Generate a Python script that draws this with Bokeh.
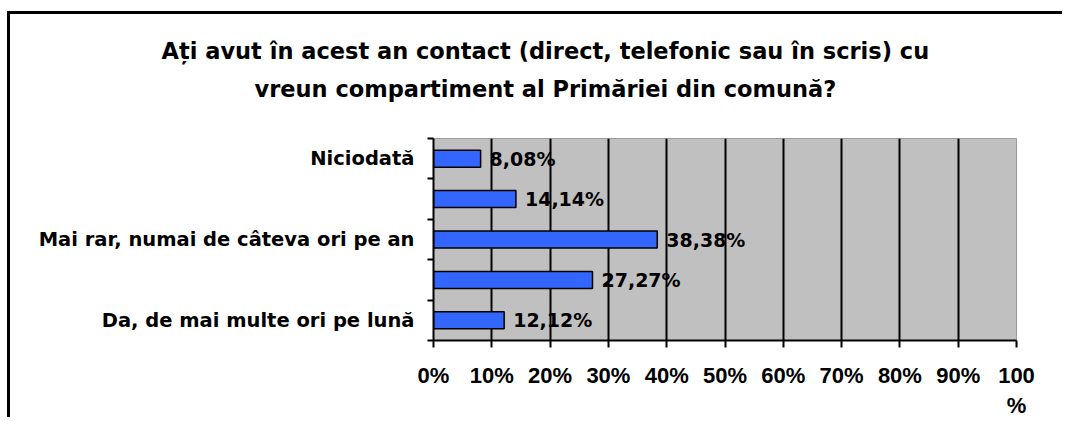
from bokeh.plotting import figure
from bokeh.models import FixedTicker, ColumnDataSource, Title
from bokeh.core.properties import value
from bokeh.embed import file_html
from bokeh.resources import INLINE

# ---- data (bottom to top) ----
categories = ["Da, de mai multe ori pe lună", "", "Mai rar, numai de câteva ori pe an", "", "Niciodată"]
percents = [12.12, 27.27, 38.38, 14.14, 8.08]
x_ticks = [0, 10, 20, 30, 40, 50, 60, 70, 80, 90, 100]
x_tick_labels = ["0%", "10%", "20%", "30%", "40%", "50%", "60%", "70%", "80%", "90%", "100\n%"]
title_lines = ["Ați avut în acest an contact (direct, telefonic sau în scris) cu",
               "vreun compartiment al Primăriei din comună?"]

FONT = "DejaVu Sans"
TICK_FONT = "Liberation Sans"
W, H = 1055, 406

ypos = list(range(len(categories)))
labels = [f"{v:.2f}".replace(".", ",") + "%" for v in percents]
src = ColumnDataSource(dict(y=ypos, v=percents, lab=labels))

p = figure(width=W, height=H, output_backend="svg", toolbar_location=None,
           x_range=(0, 100), y_range=(-0.5, len(categories) - 0.5),
           min_border_left=423, min_border_right=W - 1006, min_border_top=124,
           min_border_bottom=H - 327)
p.styles = {"margin-left": "7px", "margin-top": "11px",
            "border-left": "3px solid black", "border-top": "3px solid black"}

p.title.text = ""
p.title.visible = False

p.background_fill_color = "#C0C0C0"
p.border_fill_color = "white"
p.outline_line_color = "#9A9A9A"
p.outline_line_width = 1

p.hbar(y="y", right="v", left=0, height=0.42, source=src,
       fill_color="#3366FF", line_color="black", line_width=1.5)

p.text(x="v", y="y", text="lab", source=src, x_offset=9,
       text_font=value(FONT), text_font_style="bold", text_font_size="19px",
       text_baseline="middle", text_align="left", text_color="black")

# x axis
xa = p.xaxis[0]
xa.ticker = FixedTicker(ticks=x_ticks)
xa.major_label_overrides = {t: l for t, l in zip(x_ticks, x_tick_labels)}
xa.major_label_text_font = TICK_FONT
xa.major_label_text_font_style = "bold"
xa.major_label_text_font_size = "22px"
xa.major_label_text_color = "black"
xa.major_label_standoff = 15
xa.major_tick_out = 7
xa.major_tick_in = 0
xa.major_tick_line_width = 2
xa.minor_tick_out = 0
xa.minor_tick_in = 0
xa.axis_line_width = 2
xa.axis_line_color = "black"

# y axis
ya = p.yaxis[0]
ya.ticker = FixedTicker(ticks=ypos, minor_ticks=[i - 0.5 for i in range(len(categories) + 1)])
ya.major_label_overrides = {i: c for i, c in zip(ypos, categories)}
ya.major_label_text_font = FONT
ya.major_label_text_font_style = "bold"
ya.major_label_text_font_size = "19.5px"
ya.major_label_text_color = "black"
ya.major_label_standoff = 13
ya.major_tick_out = 0
ya.major_tick_in = 0
ya.minor_tick_out = 6
ya.minor_tick_in = 0
ya.minor_tick_line_width = 2
ya.minor_tick_line_color = "black"
ya.axis_line_width = 2
ya.axis_line_color = "black"

# grid
p.xgrid.ticker = FixedTicker(ticks=x_ticks[1:-1])
p.xgrid.grid_line_color = "black"
p.xgrid.grid_line_width = 2
p.ygrid.grid_line_color = None

# two-line title, centred over the whole chart (not only the plot area)
for txt, off, so in zip(reversed(title_lines), [-179, -272], [74, -54]):
    p.add_layout(Title(text=txt, align="left", offset=off, standoff=so,
                       text_font=FONT, text_font_style="bold", text_font_size="22.5px",
                       text_color="black"), "above")

open("out.html", "w").write(file_html(p, INLINE))
